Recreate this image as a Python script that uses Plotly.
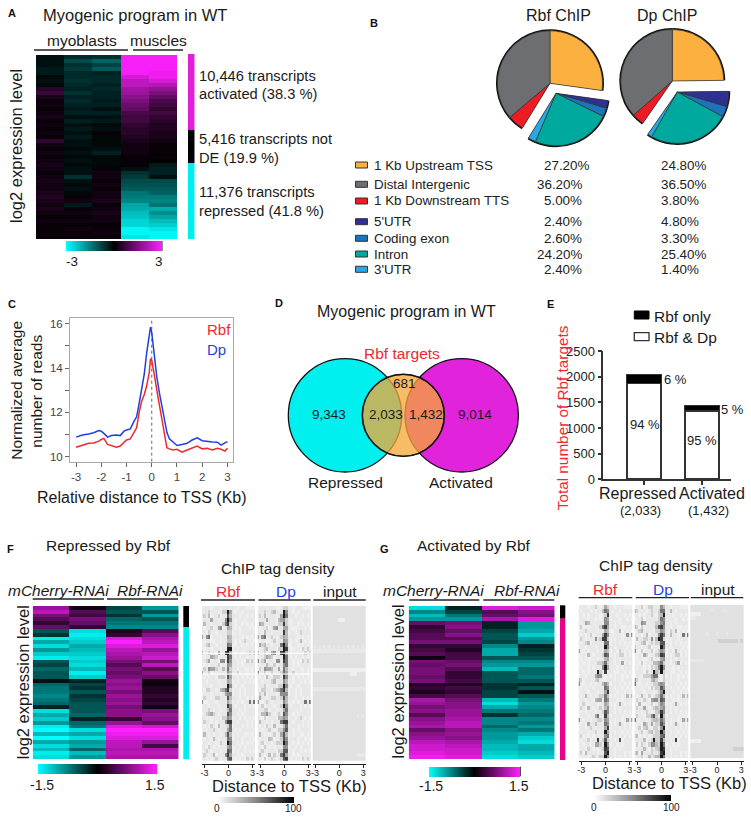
import plotly.graph_objects as go

W, H = 751, 818
FONT = "Liberation Sans"

# ---------- data ----------
PIE_LABELS = ["1 Kb Upstream TSS", "5'UTR", "Coding exon", "Intron", "3'UTR", "1 Kb Downstream TTS", "Distal Intergenic"]
PIE_RBF = [27.2, 2.4, 2.6, 24.2, 2.4, 5.0, 36.2]
PIE_DP = [24.8, 4.8, 3.3, 25.4, 1.4, 3.8, 36.5]
PIE_COLORS = ["#fbb040", "#2e3192", "#1c75bc", "#00a99d", "#27aae1", "#ed1c24", "#6d6e71"]
LEGEND_ROWS = ["1 Kb Upstream TSS", "Distal Intergenic", "1 Kb Downstream TTS", "5'UTR", "Coding exon", "Intron", "3'UTR"]
LEGEND_RBF = ["27.20%", "36.20%", "5.00%", "2.40%", "2.60%", "24.20%", "2.40%"]
LEGEND_DP = ["24.80%", "36.50%", "3.80%", "4.80%", "3.30%", "25.40%", "1.40%"]

C_X = [-3.0, -2.75, -2.5, -2.3, -2.1, -2.0, -1.9, -1.75, -1.6, -1.4, -1.25, -1.1, -1.0, -0.85, -0.7, -0.6, -0.5, -0.4,
       -0.3, -0.2, -0.1, -0.05, 0.0, 0.05, 0.1, 0.2, 0.3, 0.4, 0.5, 0.6, 0.7, 0.85, 1.0, 1.2, 1.4, 1.6, 1.8, 2.0, 2.2,
       2.4, 2.6, 2.75, 2.9, 3.0]
C_DP = [10.88, 10.98, 11.02, 11.08, 11.18, 11.15, 11.05, 10.88, 10.95, 10.98, 10.95, 11.15, 11.2, 11.25, 11.6, 11.8,
        12.4, 13.0, 13.7, 14.7, 15.6, 15.85, 15.6, 15.1, 14.4, 13.6, 12.9, 12.3, 11.6, 11.1, 10.8, 10.65, 10.5, 10.55,
        10.6, 10.75, 10.85, 10.72, 10.68, 10.66, 10.65, 10.52, 10.62, 10.68]
C_RBF = [10.42, 10.5, 10.6, 10.62, 10.7, 10.78, 10.82, 10.55, 10.5, 10.42, 10.48, 10.65, 10.75, 10.8, 11.1, 11.3,
         12.0, 12.5, 12.8, 13.2, 13.8, 14.42, 14.35, 14.1, 13.7, 13.0, 12.3, 11.6, 11.0, 10.4, 10.35, 10.3, 10.33, 10.2,
         10.3, 10.4, 10.48, 10.35, 10.38, 10.3, 10.38, 10.33, 10.25, 10.38]

E_CATS = ["Repressed", "Activated"]
E_BOTH = [1875, 1340]
E_ONLY = [158, 92]

A_ROWS = [
    [-.2, -.5, -.6, 3, 3], [-.2, -.9, -1.2, 3, 3], [-.2, -.6, -.8, 3, 3], [-.3, -.7, -1.1, 3, 3],
    [-.3, -.5, -.4, 3, 2.9], [-.1, -.5, -.5, 2.6, 2.9], [-.2, -.6, -.5, 2.3, 2.6], [-.1, -.5, -.4, 2.3, 2.2],
    [.5, -.4, -.5, 2.0, 1.8], [.7, -.6, -.4, 1.9, 1.5], [.3, -.4, -.4, 1.7, 1.2], [.1, -.5, -.3, 1.5, .9],
    [.2, -.4, -.4, 1.3, .8], [.1, -.3, -.2, 1.2, .6], [.2, -.4, -.4, .9, .8], [.3, -.2, -.2, .8, .6],
    [.1, -.4, -.3, .8, .5], [.2, -.2, -.1, .6, .4], [.1, -.3, -.2, .5, .4], [.2, -.2, .1, .5, .3],
    [.1, -.3, -.1, .4, .3], [.6, -.2, -.1, .3, .2], [.2, -.2, -.1, .2, .1], [.1, -.1, -.2, .2, .1],
    [.2, -.2, -.4, .2, .1], [.1, -.1, -.1, .1, .1], [.2, -.2, -.1, .1, 0], [.3, -.1, -.1, .1, -.3],
    [.2, -.2, .1, -.2, -.4], [.1, -.2, .2, -.6, -.4], [.2, -.6, .2, -.7, -.2], [.3, -.2, .1, -.9, -.9],
    [.2, -.1, .2, -1.0, -1.0], [.2, -.2, .1, -1.1, -1.1], [.3, -.1, .2, -1.4, -1.2], [.4, .1, .2, -1.5, -1.5],
    [.3, .2, .3, -1.6, -1.6], [.2, -.3, .1, -2.0, -1.4], [.3, .1, .2, -2.1, -2.1], [.2, .2, .3, -2.3, -1.7],
    [.1, .1, .2, -2.4, -2.0], [.2, .2, .2, -2.6, -2.3], [.1, .1, .1, -2.6, -2.5], [.1, .2, .1, -3, -2.8],
    [.1, .1, .2, -3, -3], [.1, .1, .1, -2.8, -3],
]

F_ROWS = [
    [.9, .1, -.4, -.9], [1.1, .5, -.5, -.5], [.7, .4, -.3, -.9], [.5, .7, -.6, -.5], [.3, .6, -.7, -.7], [.6, .3, -.8, -.8],
    [-.5, -1.3, .2, .5], [-.3, -1.4, .3, .8],
    [-1.4, -1.3, 1.3, 1.0], [-1.0, -1.2, 1.5, 1.1], [-1.3, -1.0, 1.3, 1.3], [-.9, -1.1, 1.1, .9], [-1.2, -1.2, 1.0, 1.1], [-1.4, -1.3, .9, 1.2],
    [-.5, -1.2, .7, .7], [-.4, -1.3, .5, 1.1], [-.6, -1.1, .7, .5], [-.5, -1.4, .6, .8], [-.5, -1.2, .7, .6],
    [-.1, -.2, .9, .1], [-.6, -.4, .8, .1], [-.7, -.3, .9, .2], [-.7, -.5, .7, .2], [-.8, -.3, .9, .3], [-.7, -.4, .8, .2], [-.6, -.5, .9, .3], [-.2, -.5, .7, .1],
    [-1.3, -.5, .8, .7], [-1.0, -.6, .8, .9], [-1.2, -.2, .3, .8], [-.9, -.6, .9, .6], [-1.4, -.7, 1.3, 1.2],
    [-1.5, -1.3, 1.5, 1.5], [-1.1, -1.0, 1.4, 1.4], [-1.5, -1.3, 1.3, 1.3], [-1.0, -.9, 1.1, .9],
    [-1.3, -1.0, 1.1, .4], [-1.1, -.6, 1.0, 1.0], [-1.4, -1.1, 1.1, 1.1], [-1.3, -.9, 1.0, 1.0],
]

G_ROWS = [
    [-1.3, -.2, 1.3, 1.2], [-.8, -.4, .5, .8], [-1.1, -.7, .6, .7], [-.9, -.9, 1.0, 1.3],
    [.6, .7, -.2, -.9], [.3, .8, -.2, -.9], [.4, .6, -.4, -1.0], [.5, .8, -.5, -1.2], [.5, .5, -.5, -.9], [.7, .7, -.4, -.8],
    [.3, .3, -.8, -.2], [.4, .2, -1.0, -.3], [.5, .4, -1.0, -.4], [.1, .4, -.5, -.5], [.7, .6, -.8, -.8], [.6, .7, -.9, -.9],
    [.7, .5, -1.1, -.6], [.7, .3, -.5, -.6], [.6, .3, -.5, -.7], [.7, .4, -.5, -.5], [.2, .2, -.3, -.2], [.3, .4, -.3, -.5],
    [.2, .3, -.4, -.1], [.4, .5, -.4, -.5], [1.0, .7, -1.1, -.7], [.9, .8, -1.3, -.9], [.7, .8, -1.0, -.8], [.8, .9, -.7, -.7],
    [.5, .9, -.3, -.6], [.8, 1.0, -.8, -.8], [.9, 1.1, -.8, -.7], [1.0, 1.1, -.6, -.9], [.6, .8, -.8, -.7], [.8, .9, -.9, -1.0],
    [.9, .8, -.9, -1.2], [1.1, 1.0, -1.0, -1.3], [1.2, 1.1, -1.1, -1.0], [1.2, 1.2, -1.1, -1.0], [1.3, 1.2, -1.2, -1.1], [1.4, 1.3, -1.3, -1.2],
]

F_RBF = """011101110111111011100
111211101229410110111
121301120117311101101
011141101159510111011
131101110268210110101
101120145014310101110
110211011112201101111
415601110114311110101
101100110113310101210
012311011116500110101
101101110119901011011
311211041189410110112
101143201118610101101
112401105518511010021
101011120115411010111
021544211316211011001
411201111115311201101
101011022217411010101
110111101114301011010
011101110119510110111
102211013468201101011
011101110145501101011
021101221117311101101
500111011114201010116
011011101118510111010
111210110113611101011
012342101117511010111
110101110225401101010
021101011158811011101
101021030112601110101
010112101114610101111
131010110137301011001
101103101116501110110
011011012119611010101
110210101114501101011
012101110117601011010
021013011158411010111
110101210116710101021""".split()

F_DP = """011101110012211011100
111211231119511010111
121301110149611101101
011141110345210111011
143101110228210110101
101120145114410001110
110311011118301101211
415601210124311110101
101100120115410101310
042311011169500110101
101231110229810011021
311211451189410110112
101243201119610101101
512401105518611010021
101131120115611010111
021544311416311011001
511201211126411201101
101031022218511010101
110111231115301011010
011201110229510110111
102211023468301101011
021301110155501101011
041101221127311101101
500121011115301010116
012011101129510111010
111220110114611101011
013352101217511010111
110201110335401101210
031101011168811011101
101021030113601110101
010112101225711010111
131010120147301011001
101103201127501110110
012011012229611010101
110210101115501101011
012101110227701011010
031013021168411010111
110201210127810101021""".split()

G_RBF = """011101121014211011100
101110101136510110111
110101111012811101101
011101101015401110110
101431111115511010111
120101101268411011001
011211110114300113010
101012011148510111015
021011151288201011011
101230111116601110101
111011101119511011110
410101110114301102101
101031011127601012201
101000110113411010111
010101112236211011401
101101011159411101011
110101119218111001101
011011145510101011010
320111123110111011011
510110101135301110101
101011011116511011010
011101110114811101101
101310101226301011013
011011034416511101011
102101110114301014101
021031011213511010111
101011101127511010101
011101146118301111010
510110112215411011014
101041131116501014101
011012101114801110101
101101120119411011010
120101011115601110101
101120118127211017011
010110144219501101011
011021010128711010111
120311110117911011101
101101211229511010101""".split()

G_DP = """011201221115311011100
321110121126611310111
110101121023911101101
011201111126511110110
111541111225611010111
320201111378511011001
012311110225410213010
111013011158610311016
031122151398201011011
101230121227711010101
211011201119611011110
510201120125401103101
101042011238701012201
101000120114511010111
010201113346211012401
101101021259511101011
111102119329211001101
011022246610201011010
420111134210211011011
610110112245401110101
111011021227511011010
011101110125911101101
101310201236301011013
021021045527611101011
103101120125401014101
021141012324511010111
111012101238511010101
021102257219301111010
610110123326411011014
101042141227501014101
012023102215901110101
101201231229511011010
230101012226711110101
111130129228311018011
020210255329601101011
011131021239811010111
230411121128911011101
111201312339611010101""".split()

F_INPUT = """aaaaaaaaaaaaaaaaaaaaa
aaaaaaaaaaaaaaaaaaaaa
aaaaaaaaaaaaaaaaaaaaa
aaaaaaaaaaa000aaaaaaa
aaaaaaaaaaaaaaaaaaaaa
aaaaaaaaaaaaaaaaaaaaa
aaaaaaaaaaaaaaaaaaaaa
aaaaaaaaaaaaaaaaaaaaa
aaaaaaaaaaaaaaaaaaaaa
aaaaaaaaaaaaaaaaaaaaa
a1a1a1a1a1a1a1a1a1a1a
111111111111111111111
aaaaaaaaaaaaaaaaaaaaa
aaaaaaaaaaaaaaaaaaaaa
aaaaaaaaaaaaaaaaaaaaa
aaaaaaaaaaaaaaaaaaaaa
000000000000000000000
aaaaaaaaaaaaaaaa000aa
aaaaaaaaaaaaaaaaaaaaa
aaaaaaaaaaaaaaaaaaaaa
aaaaaaaaaaaaaaaaaaaaa
111111111111111111111
aaaaaaaaaaaaaaaaaaaaa
aaaaaaaaaaaaaaaaaaaaa
aaaaaaaaaaaaaaaaaaaaa
aaaaaaaaaaaaaaaaaaaaa
aaaaaaaaaaaaaaaaaaaaa
aaaaaaaaaaaaaaaaaaaaa
aaaaaaaaaaaaaaaaaaa1a
aaaaaaaaaaaaaaaaaaaaa
aaaaaaaaaaaaaaaaaaaaa
aaaaaaaaaaaaaaaaaaaaa
aaaaaaaaaaaaaaaaaaaaa
aaaaaaaaaaaaaaaaaaaaa
aaaaaaaaaaaaaaaaaaaaa
aaaaaaaaaaaaaaaaaaaaa
aaaaaaaaaaaaaaaaaaaaa
aaaaaaaaaaaaaaaaaaaaa
aaaaaaaaaaaaaaaaaaa11
aaaaaaaaaaaaaaaaaaaaa""".split()

G_INPUT = """aaaaaaaaaaaaaaaaaaaaa
aaaaaaaaa1aaaa1aaaaaa
00000aaaaaaaaaaaaaaaa
111aaaaaaaaaaaaaaaaaa
aaaaaaaaaaaaaaaaaaaaa
aaaaaaaaaaaaaaaaaaaaa
aaaaaaaaaaaaaaaaaaaaa
aaaaaaa1aaa1aaa1aaaaa
aaaaaaaaaaaaaaaaaaaaa
aaaaaaaaaaaa22222222a
aaaaaaaaaaaaaaaaaaaaa
aaaaaaaaaaaaaaaaaaaaa
aaaaaaaaaaaaaaaaaaaaa
aaaaaaaaaaaaaaaaaaaaa
111111aaaaaaaaaaaaaaa
aaaaaaaaaaaaaaaaaaaaa
aaaaaaaaaaaaaaaaaaaaa
aaaaaaaaaaaaaaaaaaaaa
aaaaaaaaaaaaaaaaaaaaa
aaaaaaaaaaaaaaaaaaaaa
aaaaaaaaaaaaaaaaaaaaa
aaaaaaaaaaaaaaaaaaaaa
aaaaaaaaaaaaaaaaaaaaa
aaaaaaaaaaaaaaaaaaaaa
aaaaaaaaaaaaaaaaaaaaa
aaaaaaaaaaaaaaaaaaaaa
aaaaaaaaaaaaaaaaaaaaa
aaaaaaaaaaaaaaaaaaaaa
aaaaaaaaaaaaaaaaaaaaa
aaaaaaaaaaaaaaaaaaaaa
aaaaaaaaaaaaaaaaaaaaa
aaaaaaaaaaaaaaaaaaaaa
aaaaaaaaaaaaaaaaaaaaa
aaaaaaaaaaaaaaaaaaaaa
aaaaaaaaaaaaaaaaaaaaa
00000aaaaaaaaaaaaaaaa
aaaaaaaaaaaaaaaaaaaaa
aaaaaaaaaaaaaaaaaa222
aaaaaaaaaaaaaaaaaaaaa
aaaaaaaaaaaaaaaaaaaaa""".split()

CHIP_X = [-3.3, -3.0, -2.7, -2.4, -2.1, -1.8, -1.5, -1.2, -.9, -.6, -.3, 0, .3, .6, .9, 1.2, 1.5, 1.8, 2.1, 2.4, 2.7,
          3.0, 3.3]
DIGIT_Z = {"0": 7, "1": 10, "a": 13, "2": 20, "3": 29, "4": 38, "5": 48, "6": 58, "7": 68, "8": 78, "9": 90}

# ---------- helpers ----------
fig = go.Figure()
layout = {}
shapes = []
annots = []
axn = [0]


def fx(x):
    return x / W


def fy(y):
    return 1 - y / H


def new_axes(x0, x1, y0, y1, xa=None, ya=None):
    axn[0] += 1
    n = axn[0]
    s = "" if n == 1 else str(n)
    xd = dict(domain=[fx(x0), fx(x1)], anchor="y" + s, visible=False, fixedrange=True)
    yd = dict(domain=[fy(y1), fy(y0)], anchor="x" + s, visible=False, fixedrange=True)
    xd.update(xa or {})
    yd.update(ya or {})
    layout["xaxis" + s] = xd
    layout["yaxis" + s] = yd
    return "x" + s, "y" + s


def text(x, y, s, size=14, color="#1a1a1a", anchor="center", angle=0):
    annots.append(dict(x=fx(x), y=fy(y), xref="paper", yref="paper", text=s, showarrow=False, xanchor=anchor,
                       yanchor="middle", textangle=angle, borderpad=0, borderwidth=0,
                       font=dict(family=FONT, size=size, color=color)))


def rect(x0, y0, x1, y1, fill, line=None, lw=0):
    shapes.append(dict(type="rect", xref="paper", yref="paper", x0=fx(x0), x1=fx(x1), y0=fy(y0), y1=fy(y1),
                       fillcolor=fill, line=dict(color=line or fill, width=lw)))


def hline(x0, x1, y, color="#222222", w=1.3):
    shapes.append(dict(type="line", xref="paper", yref="paper", x0=fx(x0), x1=fx(x1), y0=fy(y), y1=fy(y),
                       line=dict(color=color, width=w)))


def circle(cx, cy, r, fill, line="#111111", lw=1.3, op=1):
    shapes.append(dict(type="circle", xref="paper", yref="paper", x0=fx(cx - r), x1=fx(cx + r), y0=fy(cy + r),
                       y1=fy(cy - r), fillcolor=fill, opacity=op, line=dict(color=line, width=lw)))


CMAP = [[0, "#00ffff"], [0.5, "#000000"], [1, "#ff20ff"]]
GMAP = [[0, "#ffffff"], [0.5, "#8a8a8a"], [1, "#000000"]]


def hbar(bar):
    bx0, bx1, by0, by1 = bar
    return dict(orientation="h", x=fx(bx0), xanchor="left", y=fy((by0 + by1) / 2), yanchor="middle",
                lenmode="pixels", len=bx1 - bx0, thicknessmode="pixels", thickness=by1 - by0, outlinewidth=0,
                xpad=0, ypad=0, ticks="", showticklabels=False)


def expr_heat(rows, x0, x1, y0, y1, zmax, bar):
    xa, ya = new_axes(x0, x1, y0, y1, ya=dict(autorange="reversed"))
    fig.add_trace(go.Heatmap(z=rows, xaxis=xa, yaxis=ya, colorscale=CMAP, zmin=-zmax, zmax=zmax, hoverinfo="skip",
                             colorbar=hbar(bar)))
    shapes.append(dict(type="line", xref="paper", yref="paper", x0=fx(bar[1]), x1=fx(bar[1]), y0=fy(bar[2]),
                       y1=fy(bar[3]), line=dict(color="#222222", width=1)))


def chip_heat(strings, x0, x1, y0, y1, axis_y, bar=None):
    z = [[DIGIT_Z[c] for c in (row + row[-2:])] for row in strings]
    xa, ya = new_axes(x0, x1, y0, y1,
                      xa=dict(visible=True, range=[-3.3, 3.3], anchor="free", position=fy(axis_y), showgrid=False,
                              zeroline=False, showline=True, linecolor="#222222", linewidth=1.2, ticks="outside",
                              ticklen=3, tickcolor="#222222", tickvals=[-3, 0, 3], ticktext=["-3", "0", "3"],
                              ticklabelstandoff=-3,
                              tickfont=dict(family=FONT, size=9, color="#222222")),
                      ya=dict(autorange="reversed"))
    tr = dict(z=z, x=CHIP_X, xaxis=xa, yaxis=ya, colorscale=GMAP, zmin=0, zmax=100, hoverinfo="skip")
    if bar:
        tr["colorbar"] = hbar(bar)
    else:
        tr["showscale"] = False
    fig.add_trace(go.Heatmap(**tr))


def pie_layer(vals, cx, cy, r, keep, colors=None, lw=0.7):
    col = [(colors or PIE_COLORS)[i] if i in keep else "rgba(0,0,0,0)" for i in range(len(vals))]
    widths = [lw if i in keep else 0 for i in range(len(vals))]
    lines = ["#333333" if i in keep else "rgba(0,0,0,0)" for i in range(len(vals))]
    fig.add_trace(go.Pie(values=vals, labels=PIE_LABELS, sort=False, direction="clockwise", rotation=0, textinfo="none",
                         hoverinfo="skip", showlegend=False,
                         domain=dict(x=[fx(cx - r), fx(cx + r)], y=[fy(cy + r), fy(cy - r)]),
                         marker=dict(colors=col, line=dict(color=lines, width=widths))))


def pie_chart(vals, c_main, c_cut, r):
    main = {0, 5, 6}
    cut = {1, 2, 3, 4}
    black = ["#111111"] * 7
    pie_layer(vals, c_main[0], c_main[1], r + 1.5, main, black, 0)
    pie_layer(vals, c_cut[0], c_cut[1], r + 1.5, cut, black, 0)
    pie_layer(vals, c_main[0], c_main[1], r, main)
    pie_layer(vals, c_cut[0], c_cut[1], r, cut)


# ---------- panel A ----------
text(12, 12.7, "<b>A</b>", 11, "#111111")
text(135, 15, "Myogenic program in WT", 16.5)
text(81.7, 40, "myoblasts", 15.5)
text(158.3, 40, "muscles", 15.5)
hline(34, 128, 50)
hline(133, 183, 50)
text(16, 146, "log2 expression level", 16.5, angle=-90)
expr_heat(A_ROWS, 36, 177, 55, 239, 3.1, (66, 162, 241, 251))
rect(188, 54, 194.5, 130, "#e020d8")
rect(188, 130, 194.5, 163, "#000000")
rect(188, 163, 194.5, 239, "#00eef0")
for y, s in [(76, "10,446 transcripts"), (94.3, "activated (38.3 %)"), (139.3, "5,416 transcripts not"),
             (157.7, "DE (19.9 %)"), (192.3, "11,376 transcripts"), (210.7, "repressed (41.8 %)")]:
    text(198.5, y, s, 14.7, anchor="left")
text(71.7, 261.7, "-3", 13.5)
text(159, 261.7, "3", 13.5)

# ---------- panel B ----------
text(374, 22.7, "<b>B</b>", 11, "#111111")
text(558.3, 15.7, "Rbf ChIP", 16)
text(667.3, 15.7, "Dp ChIP", 16)
pie_chart(PIE_RBF, (550, 83.3), (556, 93.3), 52.5)
pie_chart(PIE_DP, (672.3, 81), (677.3, 92), 51.5)
LEG_Y = [165, 184.3, 201, 221.7, 238.3, 254, 269.3]
LEG_COL = ["#fbb040", "#6d6e71", "#ed1c24", "#2e3192", "#1c75bc", "#00a99d", "#27aae1"]
LEG_X1 = [544, 537.3, 544, 544, 544, 537.3, 544]
for i, s in enumerate(LEGEND_ROWS):
    y = LEG_Y[i]
    rect(355.5, y - 3, 367.5, y + 3, LEG_COL[i], "#333333", 1)
    text(374, y, s, 13.4, "#222222", "left")
    text(LEG_X1[i], y, LEGEND_RBF[i], 13.4, "#222222", "left")
    text(660.7, y, LEGEND_DP[i], 13.4, "#222222", "left")

# ---------- panel C ----------
text(11.7, 304, "<b>C</b>", 11, "#111111")
xa, ya = new_axes(70, 233, 318.3, 461.7,
                  xa=dict(visible=True, range=[-3.24, 3.22], showgrid=False, zeroline=False, showline=True, mirror=True,
                          linecolor="#aaaaaa", linewidth=1, ticks="outside", ticklen=4, tickcolor="#666666",
                          tickvals=[-3, -2, -1, 0, 1, 2, 3], ticktext=["-3", "-2", "-1", "0", "1", "2", "3"],
                          tickfont=dict(family=FONT, size=11.5, color="#444444")),
                  ya=dict(visible=True, range=[9.77, 16.25], showgrid=False, zeroline=False, showline=True, mirror=True,
                          linecolor="#aaaaaa", linewidth=1, ticks="outside", ticklen=4, tickcolor="#666666",
                          tickvals=[10, 11, 12, 13, 14, 15, 16], ticktext=["10", "", "12", "", "14", "", "16"],
                          tickfont=dict(family=FONT, size=11.5, color="#444444")))
fig.add_trace(go.Scatter(x=[0, 0], y=[9.77, 16.25], mode="lines", line=dict(color="#666666", width=1, dash="dot"),
                         xaxis=xa, yaxis=ya, showlegend=False, hoverinfo="skip"))
fig.add_trace(go.Scatter(x=C_X, y=C_RBF, mode="lines", line=dict(color="#f0282d", width=1.5), xaxis=xa, yaxis=ya,
                         showlegend=False, hoverinfo="skip"))
fig.add_trace(go.Scatter(x=C_X, y=C_DP, mode="lines", line=dict(color="#1f3fe0", width=1.5), xaxis=xa, yaxis=ya,
                         showlegend=False, hoverinfo="skip"))
text(219.3, 329, "Rbf", 15, "#f0282d")
text(216.7, 349.3, "Dp", 15, "#1f3fe0")
text(16.7, 390, "Normalized average", 15.5, angle=-90)
text(37, 391.7, "number of reads", 15.5, angle=-90)
text(141.7, 497, "Relative distance to TSS (Kb)", 16)

# ---------- panel D ----------
text(279, 303, "<b>D</b>", 11, "#111111")
text(406.7, 311.7, "Myogenic program in WT", 16)
text(402.3, 353, "Rbf targets", 15.5, "#f0282d")
circle(345, 415.3, 56.7, "#00f0f0")
circle(461.7, 415.3, 56.7, "#e123dc")
circle(403.3, 415.3, 41, "#f6a737", op=0.76, lw=1.6)
circle(403.3, 415.3, 41, "rgba(0,0,0,0)", lw=1.2)
text(405, 383, "681", 13.5)
text(385.7, 414.3, "2,033", 13.5)
text(426, 414.3, "1,432", 13.5)
text(329.3, 414.3, "9,343", 13.5)
text(475, 414.3, "9,014", 13.5)
text(345, 482.7, "Repressed", 15.5)
text(461, 482.7, "Activated", 15.5)

# ---------- panel E ----------
text(550.7, 304, "<b>E</b>", 11, "#111111")
xa, ya = new_axes(603.3, 731, 351, 479.3,
                  xa=dict(visible=True, range=[-0.705, 1.5], showgrid=False, zeroline=False, showline=True,
                          linecolor="#333333", linewidth=1.5, ticks="outside", ticklen=4, tickcolor="#333333",
                          tickwidth=1.5, tickvals=[0, 1], ticktext=["", ""]),
                  ya=dict(visible=True, range=[0, 2500], showgrid=False, zeroline=False, showline=True,
                          linecolor="#333333", linewidth=1.5, ticks="outside", ticklen=4, tickcolor="#333333",
                          tickwidth=1.5, tickvals=[0, 500, 1000, 1500, 2000, 2500],
                          tickfont=dict(family=FONT, size=13, color="#222222")))
fig.add_trace(go.Bar(x=[0, 1], y=E_BOTH, width=0.595, marker=dict(color="#ffffff", line=dict(color="#333333", width=2)),
                     xaxis=xa, yaxis=ya, showlegend=False, hoverinfo="skip"))
fig.add_trace(go.Bar(x=[0, 1], y=E_ONLY, width=0.595, marker=dict(color="#000000", line=dict(color="#333333", width=1)),
                     xaxis=xa, yaxis=ya, showlegend=False, hoverinfo="skip"))
text(562.7, 417.5, "Total number of Rbf targets", 15.3, "#f0282d", angle=-90)
rect(634.3, 311, 649, 319, "#000000", "#000000", 1)
rect(634.3, 332.7, 649, 340.7, "#ffffff", "#333333", 1.3)
text(654, 316.7, "Rbf only", 15.5, anchor="left")
text(654, 337.3, "Rbf & Dp", 15.5, anchor="left")
text(675, 379.3, "6 %", 13)
text(732.7, 409, "5 %", 13)
text(645, 424.3, "94 %", 13)
text(701.7, 440, "95 %", 13)
text(637.7, 494, E_CATS[0], 16)
text(712.3, 494, E_CATS[1], 16)
text(640, 510, "(2,033)", 13)
text(708.3, 510, "(1,432)", 13)

# ---------- panel F ----------
text(10, 549, "<b>F</b>", 11, "#111111")
text(108, 545, "Repressed by Rbf", 15.5)
text(278.3, 568, "ChIP tag density", 15.5)
text(58.3, 590.5, "<i>mCherry-RNAi</i>", 15.5)
text(150, 590.5, "<i>Rbf-RNAi</i>", 15.5)
hline(32.7, 104, 599)
hline(107, 178, 599)
text(22.7, 682.5, "log2 expression level", 16.5, angle=-90)
expr_heat(F_ROWS, 32.7, 178.7, 606, 759.3, 1.5, (37.7, 156.7, 764.3, 774.3))
rect(183.3, 606, 189, 627.3, "#000000")
rect(183.3, 627.3, 189, 759.3, "#00eef0")
text(42, 785, "-1.5", 14)
text(155, 785, "1.5", 14)
for x0, x1, x2, lab, col in [(201, 255, 229, "Rbf", "#f0282d"), (258.5, 310.7, 285.7, "Dp", "#1f3fe0"),
                             (313.3, 365.7, 340, "input", "#1a1a1a")]:
    text(x2, 591, lab, 15.5, col)
    hline(x0, x1, 600)
chip_heat(F_RBF, 202, 255, 606, 760.7, 764.3, (216.7, 294, 797.3, 803.3))
chip_heat(F_DP, 257.7, 310.7, 606, 760.7, 764.3)
chip_heat(F_INPUT, 312.7, 365.7, 606, 760.7, 764.3)
for yy in (653.3, 674):
    rect(202, yy - 0.5, 310.7, yy + 0.5, "#ffffff")
text(289, 786, "Distance to TSS (Kb)", 16.5)
text(216.7, 808, "0", 10)
text(293, 808, "100", 10)

# ---------- panel G ----------
text(384, 549, "<b>G</b>", 11, "#111111")
text(474, 545, "Activated by Rbf", 15.5)
text(656, 565.7, "ChIP tag density", 15.5)
text(434, 590.5, "<i>mCherry-RNAi</i>", 15.5)
text(526.7, 590.5, "<i>Rbf-RNAi</i>", 15.5)
hline(409.3, 479.3, 600)
hline(483.3, 554.3, 600)
text(397.7, 681.7, "log2 expression level", 16.5, angle=-90)
expr_heat(G_ROWS, 408.7, 554.7, 606, 759.3, 1.5, (429.3, 520.3, 766.7, 776.3))
rect(560, 605.3, 565.3, 618.7, "#000000")
rect(560, 618.7, 565.3, 760, "#e8008c")
text(431, 785.7, "-1.5", 14)
text(519, 785.7, "1.5", 14)
for x0, x1, x2, lab, col in [(578.7, 632.3, 605, "Rbf", "#f0282d"), (635.7, 689, 662.7, "Dp", "#1f3fe0"),
                             (690.7, 743.3, 717.7, "input", "#1a1a1a")]:
    text(x2, 589, lab, 15.5, col)
    hline(x0, x1, 597.7)
chip_heat(G_RBF, 578.7, 632.3, 604.7, 758.3, 761, (594.3, 671, 795.3, 801))
chip_heat(G_DP, 634.7, 688.3, 604.7, 758.3, 761)
chip_heat(G_INPUT, 690.3, 743.7, 604.7, 758.3, 761)
text(669, 782.7, "Distance to TSS (Kb)", 16.5)
text(594.3, 807.7, "0", 10)
text(671, 807.7, "100", 10)

fig.update_layout(width=W, height=H, margin=dict(l=0, r=0, t=0, b=0, autoexpand=False), paper_bgcolor="white",
                  plot_bgcolor="white", barmode="stack", showlegend=False, shapes=shapes, annotations=annots, **layout)
fig.write_html("out.html", post_script="document.body.style.margin='0';", config={"displayModeBar": False})
